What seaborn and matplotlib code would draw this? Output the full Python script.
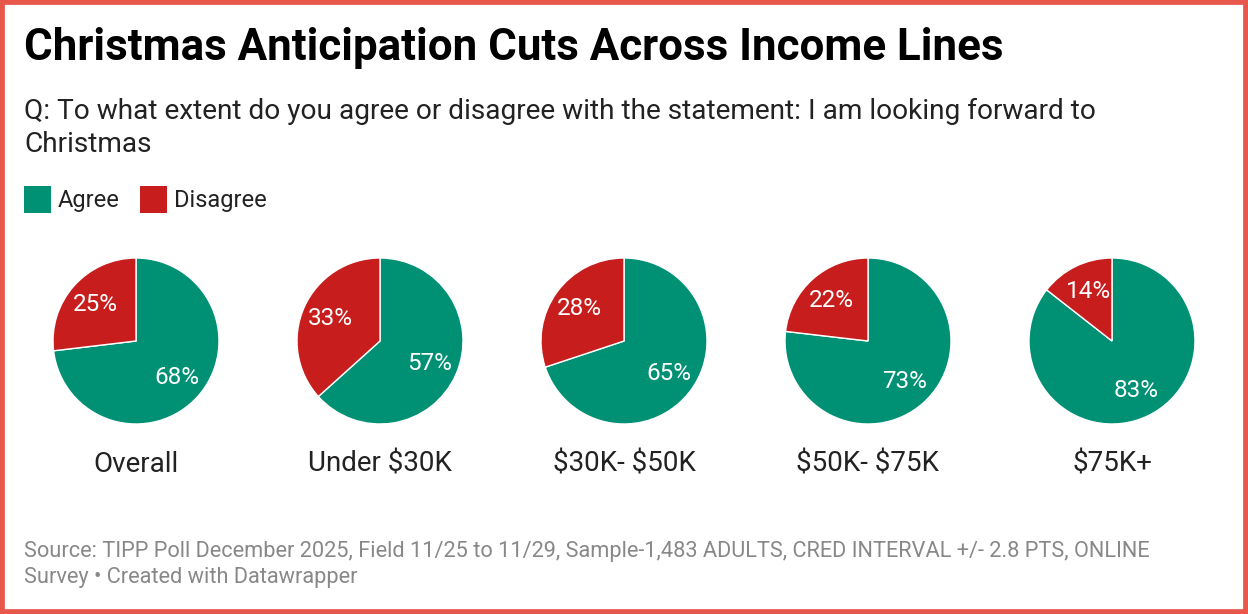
import matplotlib
matplotlib.use("Agg")
from matplotlib import pyplot as plt
from matplotlib.patches import Rectangle
import seaborn as sns

groups = ['Overall', 'Under $30K', '$30K- $50K', '$50K- $75K', '$75K+']
agree = [68, 57, 65, 73, 83]
disagree = [25, 33, 28, 22, 14]
series = ['Agree', 'Disagree']

green = '#009175'
red = '#C71E1D'

sns.set_theme(style='white')
plt.rcParams['font.family'] = ['Roboto', 'DejaVu Sans']
plt.rcParams['text.parse_math'] = False

W, H = 1248, 614
fig = plt.figure(figsize=(W / 100, H / 100), dpi=100)
fig.patch.set_facecolor('white')


def px(x, y):
    # pixel coords (top-left origin) -> figure fraction
    return x / W, 1 - y / H


# Border
fig.patches.append(Rectangle((0, 0), 1, 1, transform=fig.transFigure, fill=False,
                             edgecolor='#E8574C', linewidth=7, zorder=10))

fig.text(*px(24, 48), 'Christmas Anticipation Cuts Across Income Lines', fontsize=31.6,
         fontweight='bold', color='#000000', va='center', ha='left')
fig.text(*px(24, 111), 'Q: To what extent do you agree or disagree with the statement: I am looking forward to',
         fontsize=20.2, color='#222222', va='center', ha='left')
fig.text(*px(24, 145), 'Christmas', fontsize=20.2, color='#222222', va='center', ha='left')

# Legend
for lx, name, col in [(24, series[0], green), (140, series[1], red)]:
    fig.patches.append(Rectangle(px(lx, 213), 27 / W, 27 / H, transform=fig.transFigure,
                                 facecolor=col, edgecolor='none'))
    fig.text(*px(lx + 34, 201), name, fontsize=17, color='#222222', va='center', ha='left')

# Pies
centers = [136, 380, 624, 868, 1112]
cy = 341
r = 83
for cx, g, a, d in zip(centers, groups, agree, disagree):
    x0, y0 = px(cx - r, cy + r)
    ax = fig.add_axes([x0, y0, 2 * r / W, 2 * r / H])
    wedges, texts, autotexts = ax.pie([a, d], colors=[green, red], startangle=90, counterclock=False,
                                      labels=None, autopct='%1.0f%%', pctdistance=0.66,
                                      wedgeprops=dict(edgecolor='white', linewidth=1),
                                      textprops=dict(color='white', fontsize=17.5))
    for t, v in zip(autotexts, [a, d]):
        t.set_text(f'{v}%')
    ax.set_xlim(-1, 1)
    ax.set_ylim(-1, 1)
    ax.axis('off')
    fig.text(*px(cx, 464), g, fontsize=20, color='#222222', ha='center', va='center')

fig.text(*px(24, 551), 'Source: TIPP Poll December 2025, Field 11/25 to 11/29, Sample-1,483 ADULTS, CRED INTERVAL +/- 2.8 PTS, ONLINE',
         fontsize=15.7, color='#888888', ha='left', va='center')
fig.text(*px(24, 577), 'Survey \u2022 Created with Datawrapper', fontsize=15.7, color='#888888',
         ha='left', va='center')

fig.savefig('out.png', dpi=100, facecolor='white')
